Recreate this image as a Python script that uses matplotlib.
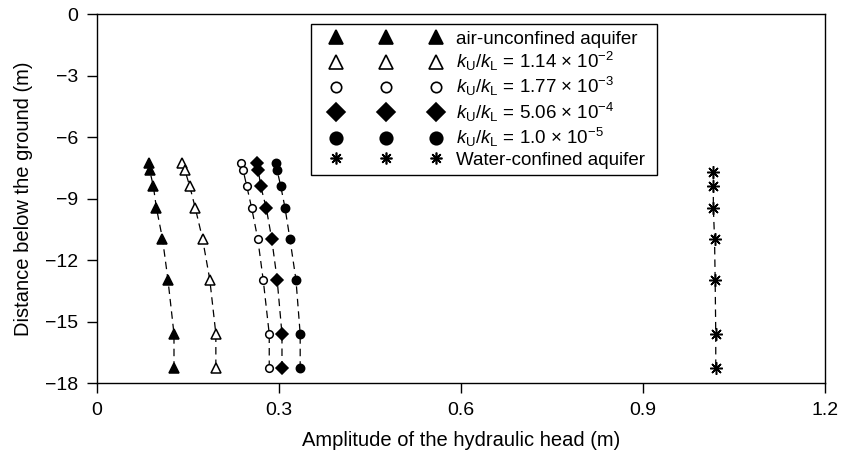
import matplotlib
matplotlib.use("Agg")
import matplotlib.pyplot as plt
from matplotlib.lines import Line2D
from matplotlib.legend_handler import HandlerLine2D

plt.rcParams['font.family'] = ['Liberation Sans', 'DejaVu Sans']
plt.rcParams['mathtext.fontset'] = 'custom'
plt.rcParams['mathtext.rm'] = 'Liberation Sans'
plt.rcParams['mathtext.it'] = 'Liberation Sans:italic'

# depths (m) of the observation points
depth = [-7.27, -7.62, -8.4, -9.45, -10.95, -12.95, -15.6, -17.25]
depth_water = [-7.7, -8.4, -9.45, -10.95, -12.95, -15.6, -17.25]

# amplitude of the hydraulic head (m)
amp_air = [0.086, 0.087, 0.093, 0.098, 0.108, 0.117, 0.127, 0.127]
amp_k1 = [0.141, 0.145, 0.153, 0.162, 0.174, 0.186, 0.196, 0.196]
amp_k2 = [0.237, 0.241, 0.247, 0.255, 0.265, 0.274, 0.284, 0.284]
amp_k3 = [0.263, 0.266, 0.270, 0.279, 0.288, 0.297, 0.305, 0.305]
amp_k4 = [0.295, 0.297, 0.303, 0.310, 0.318, 0.328, 0.335, 0.335]
amp_water = [1.016, 1.016, 1.016, 1.018, 1.019, 1.020, 1.020]

labels = ['air-unconfined aquifer',
          r'$k_\mathrm{U}/k_\mathrm{L}$ = 1.14 × 10$^{−2}$',
          r'$k_\mathrm{U}/k_\mathrm{L}$ = 1.77 × 10$^{−3}$',
          r'$k_\mathrm{U}/k_\mathrm{L}$ = 5.06 × 10$^{−4}$',
          r'$k_\mathrm{U}/k_\mathrm{L}$ = 1.0 × 10$^{−5}$',
          'Water-confined aquifer']

xticks = [0, 0.3, 0.6, 0.9, 1.2]
xticklabels = ['0', '0.3', '0.6', '0.9', '1.2']
yticks = [0, -3, -6, -9, -12, -15, -18]

# marker styles: (marker, facecolor, size in plot, size in legend)
styles = [('^', 'black', 6.5, 10),
          ('^', 'white', 6.5, 10),
          ('o', 'white', 5.5, 7.5),
          ('D', 'black', 6.5, 9),
          ('o', 'black', 6, 9),
          ((8, 2, 0), 'black', 9, 8.5)]

series = [(amp_air, depth), (amp_k1, depth), (amp_k2, depth),
          (amp_k3, depth), (amp_k4, depth), (amp_water, depth_water)]

fig = plt.figure(figsize=(8.43, 4.55), dpi=100)
ax = fig.add_axes([0.115, 0.158, 0.8636, 0.811])

handles = []
for (xs, ys), (mk, fc, ms, lms), lab in zip(series, styles, labels):
    ax.plot(xs, ys, color='black', lw=0.9, ls=(0, (6, 4)), zorder=1)
    ax.plot(xs, ys, ls='none', marker=mk, ms=ms, mfc=fc, mec='black',
            mew=1.1, zorder=2)
    handles.append(Line2D([], [], ls='none', marker=mk, ms=lms, mfc=fc,
                          mec='black', mew=1.2, label=lab))

ax.set_xlim(0, 1.2)
ax.set_ylim(-18, 0)
ax.set_xticks(xticks)
ax.set_xticklabels(xticklabels)
ax.set_yticks(yticks)
ax.tick_params(direction='out', length=7.5, width=1, labelsize=14,
               top=False, right=False, pad=6)
for s in ax.spines.values():
    s.set_linewidth(1)

ax.set_xlabel('Amplitude of the hydraulic head (m)', fontsize=14.5, labelpad=9)
ax.set_ylabel('Distance below the ground (m)', fontsize=14.5, labelpad=9)

leg = ax.legend(handles=handles, loc='upper left', mode='expand',
                bbox_to_anchor=(0.294, 0.5, 0.475, 0.473), borderaxespad=0,
                fontsize=13.5, numpoints=3, handlelength=7.3,
                handletextpad=0.1, labelspacing=0.12, borderpad=0.35,
                fancybox=False, edgecolor='black', framealpha=1,
                handler_map={Line2D: HandlerLine2D(marker_pad=1.0, numpoints=3)})
leg.get_frame().set_linewidth(1)

fig.savefig('out.png', dpi=100)
